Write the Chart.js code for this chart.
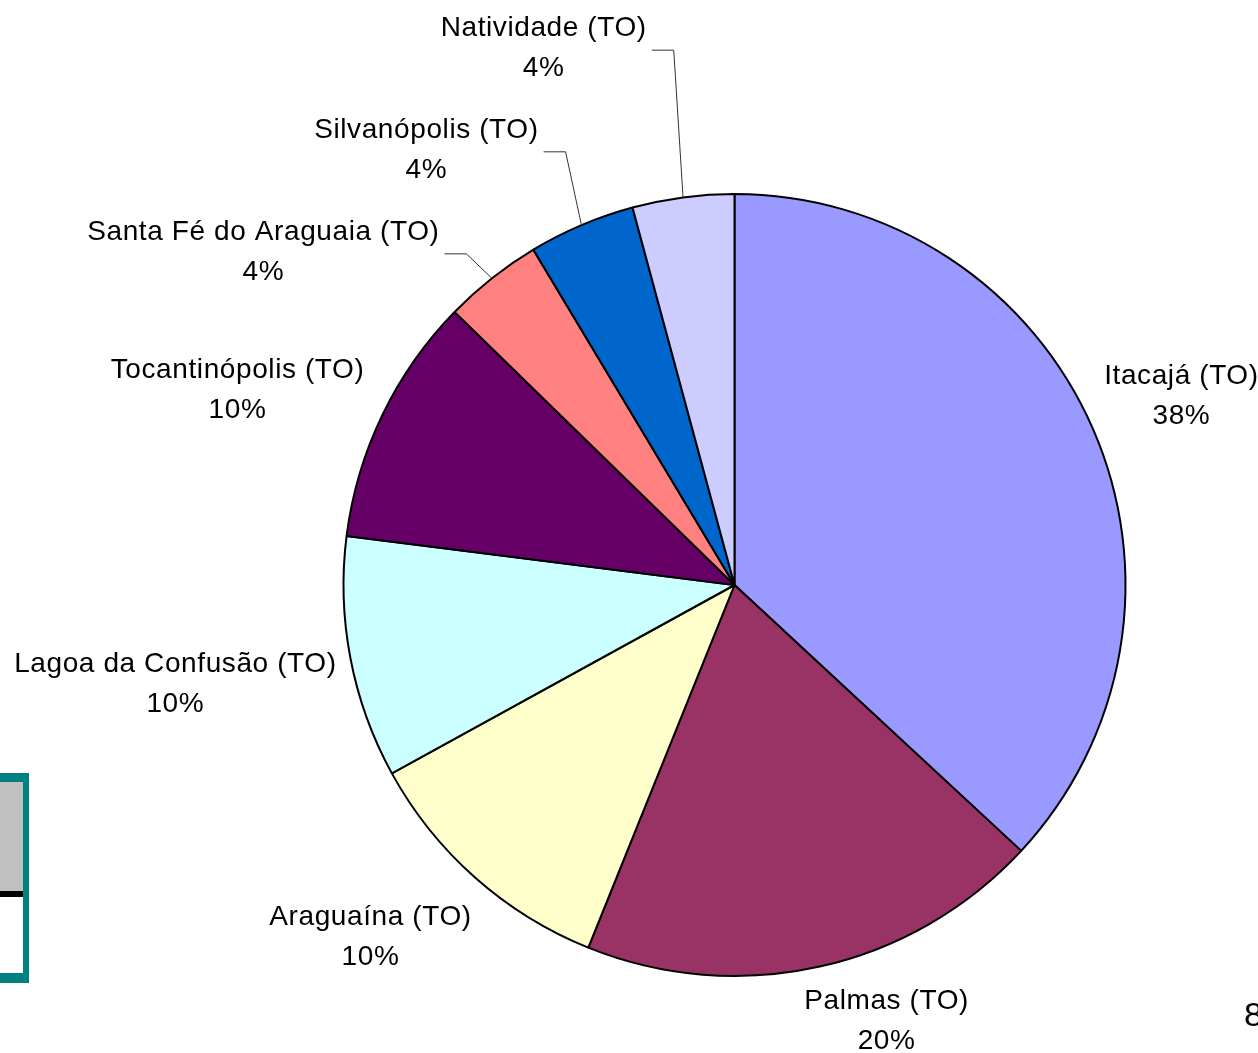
<!DOCTYPE html>
<html lang="pt-BR">
<head>
<meta charset="utf-8">
<title>Municípios (TO)</title>
<script src="https://cdn.jsdelivr.net/npm/chart.js@4.4.1/dist/chart.umd.min.js"></script>
<style>
    html, body { margin: 0; padding: 0; background: #fff; overflow: hidden; }
    #wrap { position: relative; width: 1258px; height: 1053px; }
    #grafico { position: absolute; left: 0; top: 0; }
    /* resto da tabela da página recortada, à esquerda */
    .caixa { position: absolute; left: -10px; top: 773px; width: 33px; height: 191px;
             border-top: 9px solid #008080; border-right: 6px solid #008080; border-bottom: 10px solid #008080; }
    .caixa-cinza { height: 109px; background: #c0c0c0; border-bottom: 6px solid #000; }
    .pagina { position: absolute; left: 1244px; top: 995px; font: 34px "Liberation Sans", Arial, sans-serif; color: #000; }
</style>
</head>
<body>
<div id="wrap">
    <canvas id="grafico" width="1258" height="1053"></canvas>
    <div class="caixa"><div class="caixa-cinza"></div></div>
    <div class="pagina">8</div>
</div>
<script>
/* municípios, no sentido horário a partir do topo */
const municipios = [
    'Itacajá (TO)',
    'Palmas (TO)',
    'Araguaína (TO)',
    'Lagoa da Confusão (TO)',
    'Tocantinópolis (TO)',
    'Santa Fé do Araguaia (TO)',
    'Silvanópolis (TO)',
    'Natividade (TO)'
];
/* percentuais impressos nos rótulos */
const percentuais = [38, 20, 10, 10, 10, 4, 4, 4];
/* tamanho das fatias como aparecem no desenho (medido pelos ângulos, em %) */
const fatias = [36.9, 19.2, 10.9, 10.0, 10.3, 4.1, 4.4, 4.2];

/* estilo: cores das fatias (paleta padrão do Excel) */
const cores = ['#9999FF', '#993366', '#FFFFCC', '#CCFFFF', '#660066', '#FF8080', '#0066CC', '#CCCCFF'];

/* centro de cada bloco de rótulo, em raios a partir do centro da pizza */
const posRotulos = [
    [1.143, -0.483],
    [0.389, 1.115],
    [-0.931, 0.900],
    [-1.430, 0.253],
    [-1.271, -0.499],
    [-1.205, -0.852],
    [-0.788, -1.113],
    [-0.488, -1.373]
];
/* fatias pequenas recebem linha de chamada */
const comLinha = [false, false, false, false, false, true, true, true];

const FONTE = '28px "Liberation Sans", Arial, sans-serif';
const ENTRELINHA = 40;

/* plugin que desenha os rótulos "nome / xx%" e as linhas de chamada */
const rotulosPlugin = {
    id: 'rotulos',
    afterDatasetsDraw(chart) {
        const ctx = chart.ctx;
        const arcos = chart.getDatasetMeta(0).data;
        ctx.save();
        ctx.font = FONTE;
        ctx.letterSpacing = '0.6px';
        ctx.fillStyle = '#000';
        ctx.textAlign = 'center';
        ctx.textBaseline = 'middle';

        for (let i = 0; i < arcos.length; i++) {
            const arco = arcos[i];
            const r = arco.outerRadius;
            const cx = arco.x + posRotulos[i][0] * r;
            const cy = arco.y + posRotulos[i][1] * r;
            const y1 = cy - ENTRELINHA / 2;
            const y2 = cy + ENTRELINHA / 2;
            ctx.fillText(municipios[i], cx, y1);
            ctx.fillText(percentuais[i] + '%', cx, y2);

            if (comLinha[i]) {
                /* ponto na borda da fatia, no ângulo médio */
                const meio = (arco.startAngle + arco.endAngle) / 2;
                const px = arco.x + Math.cos(meio) * r;
                const py = arco.y + Math.sin(meio) * r;
                const largura = ctx.measureText(municipios[i]).width;
                const x0 = cx + largura / 2 + 5;
                const yl = y1 + 22;
                ctx.beginPath();
                ctx.strokeStyle = '#333';
                ctx.lineWidth = 1;
                ctx.moveTo(x0, yl);
                ctx.lineTo(x0 + 22, yl);
                ctx.lineTo(px, py);
                ctx.stroke();
            }
        }
        ctx.restore();
    }
};

new Chart(document.getElementById('grafico'), {
    type: 'pie',
    data: {
        labels: municipios,
        datasets: [{
            data: fatias,
            backgroundColor: cores,
            borderColor: '#000',
            borderWidth: 2
        }]
    },
    options: {
        responsive: false,
        animation: false,
        layout: { padding: { left: 342, right: 131, top: 193, bottom: 76 } },
        plugins: {
            legend: { display: false },
            tooltip: { enabled: false }
        }
    },
    plugins: [rotulosPlugin]
});
</script>
</body>
</html>
